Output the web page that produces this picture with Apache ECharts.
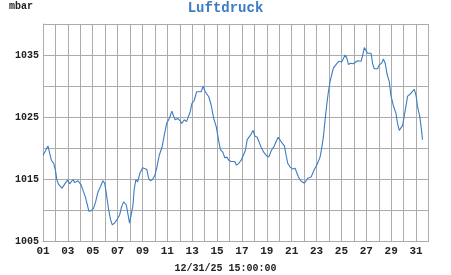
<!DOCTYPE html>
<html>
<head>
<meta charset="utf-8">
<script src="https://cdn.jsdelivr.net/npm/echarts@6/dist/echarts.min.js"></script>
<style>html,body{margin:0;padding:0;background:#fff}#c{width:451px;height:275px}</style>
</head>
<body>
<div id="c"></div>
<script>
// Day of month (fractional) for each sample
var days = [1.00,1.19,1.40,1.54,1.67,1.86,2.00,2.12,2.26,2.40,2.53,2.66,2.82,2.98,3.14,3.28,3.41,3.55,3.68,3.81,3.95,4.08,4.21,4.41,4.53,4.69,4.89,5.07,5.23,5.42,5.61,5.82,5.96,6.09,6.28,6.44,6.57,6.76,6.94,7.16,7.32,7.48,7.70,7.96,8.23,8.34,8.47,8.61,8.79,9.01,9.17,9.35,9.49,9.63,9.81,10.00,10.16,10.35,10.56,10.75,10.94,11.10,11.23,11.36,11.50,11.63,11.82,12.00,12.16,12.36,12.54,12.70,12.84,12.97,13.16,13.35,13.51,13.72,13.88,14.01,14.15,14.33,14.53,14.73,14.93,15.14,15.27,15.46,15.62,15.79,15.94,16.13,16.29,16.42,16.56,16.74,16.94,17.10,17.28,17.42,17.55,17.74,17.90,18.03,18.22,18.35,18.54,18.75,18.94,19.15,19.37,19.55,19.75,19.91,20.07,20.25,20.41,20.55,20.68,20.87,21.06,21.27,21.40,21.54,21.72,21.88,22.02,22.16,22.29,22.42,22.56,22.69,22.82,23.01,23.14,23.28,23.41,23.55,23.68,23.81,23.95,24.08,24.21,24.35,24.48,24.61,24.78,24.89,25.02,25.15,25.29,25.42,25.56,25.74,25.94,26.10,26.30,26.44,26.58,26.71,26.84,26.98,27.10,27.24,27.38,27.51,27.64,27.78,27.91,28.04,28.23,28.37,28.53,28.66,28.85,28.98,29.17,29.39,29.51,29.65,29.79,29.92,30.11,30.32,30.51,30.67,30.86,31.00,31.12,31.31,31.44,31.52];
// Air pressure (mbar)
var pressure = [1018.9,1019.6,1020.4,1019.2,1018.1,1017.6,1016.5,1014.9,1014.2,1014.2,1013.6,1013.7,1014.5,1014.9,1014.3,1014.5,1015.0,1014.5,1014.3,1014.8,1014.9,1014.1,1013.3,1012.2,1011.2,1009.9,1010.0,1010.4,1011.4,1013.0,1013.8,1014.8,1014.4,1012.8,1010.1,1008.5,1007.7,1008.0,1008.5,1009.3,1010.6,1011.4,1010.9,1008.0,1010.8,1013.5,1015.0,1014.6,1016.0,1016.9,1016.9,1016.6,1015.2,1014.8,1015.0,1015.7,1017.0,1018.9,1020.1,1022.1,1024.0,1024.6,1025.2,1026.0,1025.2,1024.6,1024.8,1024.5,1024.0,1024.6,1024.3,1024.5,1025.9,1027.2,1027.7,1029.1,1029.2,1029.1,1030.0,1029.3,1028.8,1028.3,1026.9,1024.8,1023.5,1021.1,1019.8,1019.4,1018.5,1018.6,1018.1,1017.9,1018.2,1017.9,1017.3,1017.6,1018.1,1018.2,1019.7,1021.4,1021.6,1022.3,1022.9,1022.0,1021.8,1021.6,1020.2,1019.4,1018.9,1018.6,1019.7,1020.2,1021.1,1021.8,1021.6,1020.8,1020.4,1018.9,1017.6,1017.0,1016.7,1016.8,1016.7,1015.4,1014.8,1014.9,1014.4,1014.5,1015.2,1015.5,1015.4,1015.5,1016.6,1017.3,1017.6,1018.6,1020.0,1021.9,1024.5,1026.9,1029.1,1030.7,1031.8,1032.9,1033.0,1033.6,1034.0,1034.2,1033.9,1034.4,1035.0,1034.6,1033.5,1033.7,1033.6,1033.4,1034.1,1034.4,1034.0,1035.0,1036.2,1035.9,1035.3,1035.1,1035.3,1033.6,1032.8,1032.7,1032.8,1033.4,1033.7,1034.4,1033.6,1032.0,1030.7,1028.5,1026.9,1025.6,1024.0,1022.9,1022.7,1023.7,1025.9,1028.4,1028.7,1029.1,1029.5,1028.5,1026.7,1025.0,1022.9,1021.4];
var yLabels = [1005, 1015, 1025, 1035];
var title = 'Luftdruck';
var unit = 'mbar';
var footer = '12/31/25 15:00:00';

var seriesData = days.map(function (d, i) { return [d, pressure[i]]; });
var font = 'Liberation Mono';
var gridColor = '#ababab';
var chart = echarts.init(document.getElementById('c'), null, {renderer: 'canvas'});
chart.setOption({
  animation: false,
  backgroundColor: '#fff',
  title: [
    {text: title, left: 'center', top: 1, padding: 0, textStyle: {fontFamily: font, fontSize: 14, fontWeight: 'bold', color: '#3b7dc2'}},
    {text: unit, left: 9, top: 1, padding: 0, textStyle: {fontFamily: font, fontSize: 10, fontWeight: 'bold', color: '#222'}},
    {text: footer, left: 'center', top: 263, padding: 0, textStyle: {fontFamily: font, fontSize: 10, fontWeight: 'bold', color: '#222'}}
  ],
  grid: {left: 43, right: 22.5, top: 24, bottom: 33.3, containLabel: false},
  xAxis: {
    type: 'value', min: 1, max: 32, interval: 1,
    axisLine: {show: true, lineStyle: {color: gridColor, width: 1}},
    axisTick: {show: false},
    splitLine: {show: true, lineStyle: {color: gridColor, width: 1}},
    axisLabel: {
      fontFamily: font, fontSize: 11, fontWeight: 'bold', color: '#222', margin: 4,
      formatter: function (v) { return (v % 2 === 1 && v <= 31) ? (v < 10 ? '0' + v : '' + v) : ''; }
    }
  },
  yAxis: {
    type: 'value', min: 1005, max: 1040, interval: 5,
    axisLine: {show: true, lineStyle: {color: gridColor, width: 1}},
    axisTick: {show: false},
    splitLine: {show: true, lineStyle: {color: gridColor, width: 1}},
    axisLabel: {
      fontFamily: font, fontSize: 10, fontWeight: 'bold', color: '#222', margin: 4,
      formatter: function (v) { return yLabels.indexOf(v) >= 0 ? '' + v : ''; }
    }
  },
  series: [{
    type: 'line', data: seriesData, showSymbol: false, smooth: false,
    lineStyle: {color: '#3b7dc2', width: 1.1}
  }]
});
</script>
</body>
</html>
